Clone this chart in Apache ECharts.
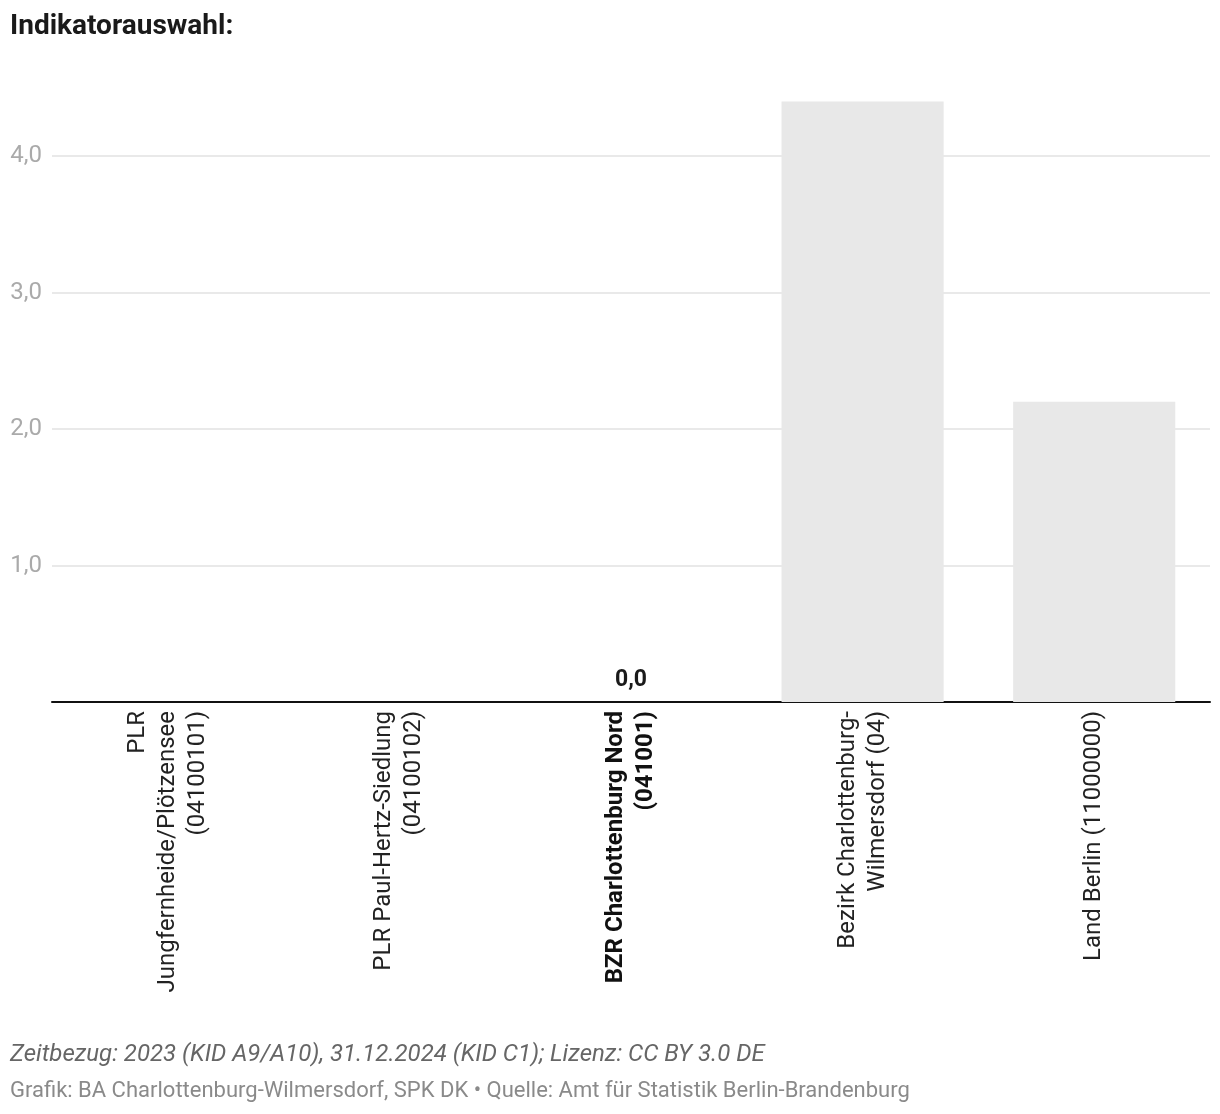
<!DOCTYPE html>
<html><head><meta charset="utf-8">
<script src="https://cdn.jsdelivr.net/npm/echarts@6/dist/echarts.min.js"></script>
<style>html,body{margin:0;padding:0;background:#fff}#c{width:1220px;height:1114px}</style>
</head><body><div id="c"></div>
<script>
const categories = [
  "PLR\nJungfernheide/Plötzensee\n(04100101)",
  "PLR Paul-Hertz-Siedlung\n(04100102)",
  "BZR Charlottenburg Nord\n(041001)",
  "Bezirk Charlottenburg-\nWilmersdorf (04)",
  "Land Berlin (11000000)"
];
const values = [null, null, 0.0, 4.4, 2.2];
const highlightIndex = 2;
const yTicks = [0, 1, 2, 3, 4, 5];

const chart = echarts.init(document.getElementById('c'), null, {renderer: 'canvas'});
const fmt = v => v.toFixed(1).replace('.', ',');
chart.setOption({
  animation: false,
  textStyle: {fontFamily: 'Roboto'},
  title: [
    {text: 'Indikatorauswahl:', left: 10, top: 13, padding: 0, textStyle: {fontFamily: 'Roboto', fontWeight: 'bold', fontSize: 28, color: '#1a1a1a'}},
    {text: 'Zeitbezug: 2023 (KID A9/A10), 31.12.2024 (KID C1); Lizenz: CC BY 3.0 DE', left: 10, top: 1043, padding: 0, textStyle: {fontFamily: 'Roboto', fontStyle: 'italic', fontWeight: 'normal', fontSize: 24, color: '#666'}},
    {text: 'Grafik: BA Charlottenburg-Wilmersdorf, SPK DK • Quelle: Amt für Statistik Berlin-Brandenburg', left: 10, top: 1080, padding: 0, textStyle: {fontFamily: 'Roboto', fontWeight: 'normal', fontSize: 22, color: '#8a8a8a'}}
  ],
  grid: {left: 52, right: 10, top: 19.5, bottom: 412, containLabel: false},
  xAxis: {
    type: 'category', data: categories,
    axisLine: {show: true, lineStyle: {color: '#111', width: 2}},
    axisTick: {show: false},
    axisLabel: {
      rotate: 90, margin: 9, interval: 0, fontSize: 24, lineHeight: 30, color: '#222',
      formatter: (v, i) => i === highlightIndex ? v.split('\n').map(s => '{b|' + s + '}').join('\n') : v,
      rich: {b: {fontWeight: 'bold', fontSize: 24, lineHeight: 30, color: '#111', fontFamily: 'Roboto'}}
    }
  },
  yAxis: {
    type: 'value', min: yTicks[0], max: yTicks[yTicks.length - 1], interval: 1,
    axisLine: {show: false}, axisTick: {show: false},
    axisLabel: {showMinLabel: false, showMaxLabel: false, fontSize: 24, color: '#aaa', margin: 10, formatter: fmt},
    splitLine: {show: true, showMinLine: false, showMaxLine: false, lineStyle: {color: '#e2e2e2', width: 1.5}}
  },
  series: [{
    type: 'bar', data: values, barCategoryGap: '30%',
    itemStyle: {color: '#e8e8e8'},
    label: {
      show: true, position: 'top', distance: 10, fontSize: 23, fontWeight: 'bold', color: '#1a1a1a',
      formatter: p => p.dataIndex === highlightIndex ? fmt(p.value) : ''
    }
  }]
});
</script></body></html>
